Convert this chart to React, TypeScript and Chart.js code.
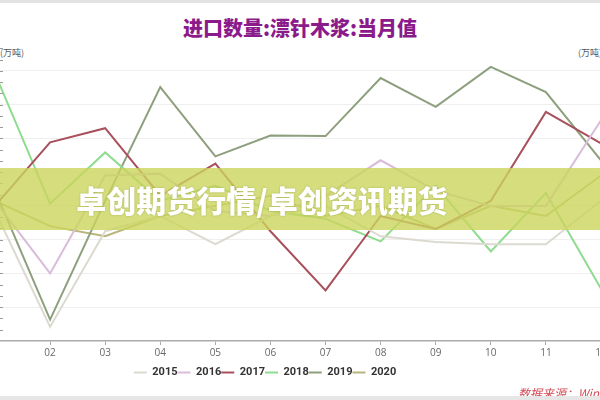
import React, { useEffect, useRef } from "react";
import { Chart, registerables } from "chart.js";
Chart.register(...registerables);

const months = ["01", "02", "03", "04", "05", "06", "07", "08", "09", "10", "11", "12"];
const seriesNames = ["2015", "2016", "2017", "2018", "2019", "2020"];
const s2015 = [53.1, 32.5, 49.5, 52.2, 47.2, 52.2, 54.0, 48.6, 47.6, 47.2, 47.2, 54.9];
const s2016 = [54.9, 42.0, 59.4, 59.7, 53.1, 52.2, 55.8, 62.1, 56.7, 54.0, 54.0, 69.2];
const s2017 = [54.0, 65.3, 67.8, 55.8, 61.5, 49.5, 39.0, 52.2, 49.9, 54.9, 70.7, 65.1];
const s2018 = [77.5, 54.4, 63.5, 54.9, 57.6, 53.1, 51.7, 47.7, 57.6, 45.9, 56.3, 39.3];
const s2019 = [56.7, 33.8, 54.9, 75.1, 62.8, 66.5, 66.4, 76.7, 71.6, 78.7, 74.2, 62.1];
const s2020 = [54.9, 50.4, 48.6, 52.2, 54.0, 55.8, 52.2, 54.0, 49.9, 54.0, 52.2, 59.4];
const seriesColors = ["#dcdad0", "#d9bcd9", "#a8505c", "#8fdc8f", "#8d9f7d", "#b8b47a"];

const Y_MIN = 30;
const Y_MAX = 84;
const Y_STEP = 6;
const Y_MINOR = 2;

const CANVAS_LEFT = -85;

const minorTicks = {
  id: "minorTicks",
  afterDraw(chart: any) {
    const ctx = chart.ctx;
    const ys = chart.scales.y;
    const x0 = -CANVAS_LEFT;
    ctx.save();
    ctx.strokeStyle = "#9a9a9a";
    ctx.lineWidth = 1;
    for (let v = Y_MIN + Y_MINOR; v < Y_MAX; v += Y_MINOR) {
      const py = Math.round(ys.getPixelForValue(v)) + 0.5;
      ctx.beginPath();
      ctx.moveTo(x0, py);
      ctx.lineTo(x0 + 3, py);
      ctx.stroke();
    }
    ctx.restore();
  },
};

export default function App() {
  const ref = useRef<HTMLCanvasElement>(null);
  useEffect(() => {
    const all = [s2015, s2016, s2017, s2018, s2019, s2020];
    const chart = new Chart(ref.current!, {
      type: "line",
      data: {
        labels: months,
        datasets: all.map((d, i) => ({
          label: seriesNames[i],
          data: d,
          borderColor: seriesColors[i],
          backgroundColor: seriesColors[i],
          borderWidth: 2,
          pointRadius: 0,
          tension: 0,
          fill: false,
          yAxisID: "y",
        })),
      },
      options: {
        animation: false,
        responsive: false,
        maintainAspectRatio: false,
        layout: { padding: { left: 0, right: 0, top: 37, bottom: 0 } },
        plugins: {
          legend: {
            position: "bottom",
            labels: {
              usePointStyle: true,
              pointStyle: "line",
              pointStyleWidth: 13,
              padding: 0,
              color: "#333",
              font: { size: 11, weight: "bold", family: "Roboto, sans-serif" },
            },
          },
          tooltip: { enabled: false },
        },
        scales: {
          x: {
            offset: false,
            grid: { drawOnChartArea: false, drawTicks: true, tickLength: 4, color: "#aaa" },
            border: { color: "#aaa", width: 1.5 },
            ticks: {
              color: "#666",
              font: { size: 10, family: "'Open Sans', sans-serif" },
              padding: 2,
              autoSkip: false,
              maxRotation: 0,
            },
            afterFit: (s: any) => {
              s.height += 6;
            },
          },
          y: {
            position: "left",
            min: Y_MIN,
            max: Y_MAX,
            ticks: { display: false },
            grid: { display: false },
            border: { display: false },
            afterFit: (s: any) => {
              s.width = 80;
            },
          },
          y2: {
            position: "right",
            min: Y_MIN,
            max: Y_MAX,
            ticks: { display: false, stepSize: Y_STEP },
            grid: {
              drawTicks: false,
              color: (ctx: any) =>
                ctx.tick && ctx.tick.value < Y_MAX && ctx.tick.value > Y_MIN ? "#efefef" : "rgba(0,0,0,0)",
            },
            border: { display: false },
            afterFit: (s: any) => {
              s.width = 14;
            },
          },
        },
      },
      plugins: [minorTicks],
    });
    return () => chart.destroy();
  }, []);

  return (
    <div
      style={{
        position: "fixed",
        left: 0,
        top: 0,
        width: 600,
        height: 400,
        overflow: "hidden",
        background: "#fff",
        fontFamily: "'Noto Sans CJK SC', sans-serif",
      }}
    >
      <div style={{ position: "absolute", left: 0, top: 0, width: 600, height: 3, background: "#e2e2e2" }} />
      <div
        style={{
          position: "absolute",
          left: 0,
          top: 14,
          width: 600,
          textAlign: "center",
          fontSize: 20,
          fontWeight: 900,
          color: "#8b1a8b",
          lineHeight: "28px",
        }}
      >
        进口数量:漂针木浆:当月值
      </div>
      <div style={{ position: "absolute", left: 0, top: 46, fontSize: 9, color: "#555" }}>(万吨)</div>
      <div style={{ position: "absolute", left: 578, top: 46, fontSize: 9, color: "#555", whiteSpace: "nowrap" }}>(万吨)</div>
      <canvas
        ref={ref}
        width={700}
        height={388}
        style={{ position: "absolute", left: CANVAS_LEFT, top: 0, width: 700, height: 388 }}
      />
      <div
        style={{
          position: "absolute",
          left: 0,
          top: 168,
          width: 600,
          height: 62,
          background: "rgba(202,212,92,0.8)",
        }}
      >
        <div
          style={{
            position: "absolute",
            left: 0,
            top: 0,
            width: 524,
            textAlign: "center",
            lineHeight: "62px",
            fontSize: 30,
            fontWeight: 900,
            color: "#fff",
            whiteSpace: "nowrap",
            textShadow: "0 0 2px rgba(110,120,30,0.45)",
          }}
        >
          卓创期货行情/卓创资讯期货
        </div>
      </div>
      <div
        style={{
          position: "absolute",
          left: 518,
          top: 384,
          fontSize: 12,
          fontStyle: "italic",
          color: "#d24a55",
          whiteSpace: "nowrap",
        }}
      >
        数据来源：Wind
      </div>
      <div style={{ position: "absolute", left: 0, top: 396, width: 600, height: 4, background: "#e6e6e6" }} />
    </div>
  );
}
